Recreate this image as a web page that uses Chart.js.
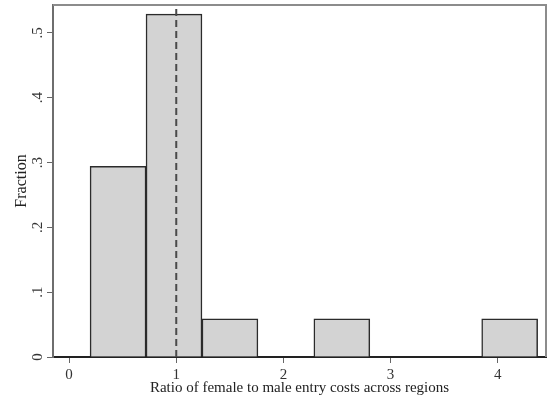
<!DOCTYPE html>
<html>
<head>
<meta charset="utf-8">
<script src="https://cdn.jsdelivr.net/npm/chart.js@4.4.1/dist/chart.umd.min.js"></script>
<style>
  html, body { margin: 0; padding: 0; background: #fff; }
  #wrap { width: 547px; height: 405px; }
</style>
</head>
<body>
<div id="wrap"><canvas id="hist"></canvas></div>
<script>
// histogram bins (centres on the ratio axis) and share of regions in each
const binCenters = [0.457, 0.979, 1.501, 2.023, 2.545, 3.067, 3.589, 4.111];
const fractions = [0.294, 0.529, 0.059, 0, 0.059, 0, 0, 0.059];
const xTicks = [0, 1, 2, 3, 4];
const yTicks = [0, 0.1, 0.2, 0.3, 0.4, 0.5];
const refLineX = 1;
const xRange = [-0.15, 4.45];
const yRange = [0, 0.543];

const serif = "'Liberation Serif', 'DejaVu Serif', serif";
const yLabel = v => v === 0 ? '0' : v.toFixed(1).replace(/^0/, '');

// gray box round the plot area (top and right sides) + rotated y tick labels
const frameBox = {
    id: 'frameBox',
    afterDatasetsDraw(chart) {
        const { ctx, chartArea: a } = chart;
        ctx.save();
        ctx.strokeStyle = '#8c8c8c';
        ctx.lineWidth = 2;
        ctx.beginPath();
        ctx.moveTo(a.left, a.top);
        ctx.lineTo(a.right, a.top);
        ctx.lineTo(a.right, a.bottom);
        ctx.stroke();
        ctx.restore();
    },
    afterDraw(chart) {
        const { ctx } = chart;
        const ys = chart.scales.y;
        ctx.save();
        ctx.fillStyle = '#333';
        ctx.font = '15px ' + serif;
        ctx.textAlign = 'center';
        ctx.textBaseline = 'middle';
        ys.ticks.forEach(t => {
            ctx.save();
            ctx.translate(ys.right - 15, ys.getPixelForValue(t.value));
            ctx.rotate(-Math.PI / 2);
            ctx.fillText(yLabel(t.value), 0, 0);
            ctx.restore();
        });
        ctx.restore();
    }
};

new Chart(document.getElementById('hist'), {
    data: {
        datasets: [{
            type: 'bar',
            data: binCenters.map((x, i) => ({ x: x, y: fractions[i] })),
            backgroundColor: '#d3d3d3',
            borderColor: '#2b2b2b',
            borderWidth: 1.5,
            borderSkipped: 'start',
            barPercentage: 1,
            categoryPercentage: 1,
            order: 2
        }, {
            type: 'line',
            data: [{ x: refLineX, y: yRange[0] }, { x: refLineX, y: yRange[1] }],
            borderColor: '#4a4a4a',
            borderWidth: 2,
            borderDash: [7, 4],
            pointRadius: 0,
            order: 1
        }]
    },
    options: {
        responsive: true,
        maintainAspectRatio: false,
        animation: false,
        layout: { padding: { top: 5, right: 1, left: 0, bottom: 0 } },
        plugins: {
            legend: { display: false },
            tooltip: { enabled: false }
        },
        scales: {
            x: {
                type: 'linear',
                min: xRange[0],
                max: xRange[1],
                offset: false,
                afterBuildTicks: s => { s.ticks = xTicks.map(v => ({ value: v })); },
                afterFit: s => { s.height = 48; },
                grid: { offset: false, drawOnChartArea: false, drawTicks: true, tickLength: 6, color: '#666' },
                border: { display: true, color: '#222', width: 2 },
                ticks: {
                    color: '#333',
                    padding: 3,
                    font: { family: serif, size: 15 },
                    callback: v => String(v)
                },
                title: {
                    display: true,
                    text: 'Ratio of female to male entry costs across regions',
                    color: '#222',
                    font: { family: serif, size: 15 },
                    padding: { top: 0, bottom: 8 }
                }
            },
            y: {
                type: 'linear',
                min: yRange[0],
                max: yRange[1],
                afterBuildTicks: s => { s.ticks = yTicks.map(v => ({ value: v })); },
                afterFit: s => { s.width = 53; },
                grid: { drawOnChartArea: false, drawTicks: true, tickLength: 6, color: '#666' },
                border: { display: true, color: '#6e6e6e', width: 2 },
                ticks: { display: false },
                title: {
                    display: true,
                    text: 'Fraction',
                    color: '#222',
                    font: { family: serif, size: 16 },
                    padding: { top: 12, bottom: 0 }
                }
            }
        }
    },
    plugins: [frameBox]
});
</script>
</body>
</html>
